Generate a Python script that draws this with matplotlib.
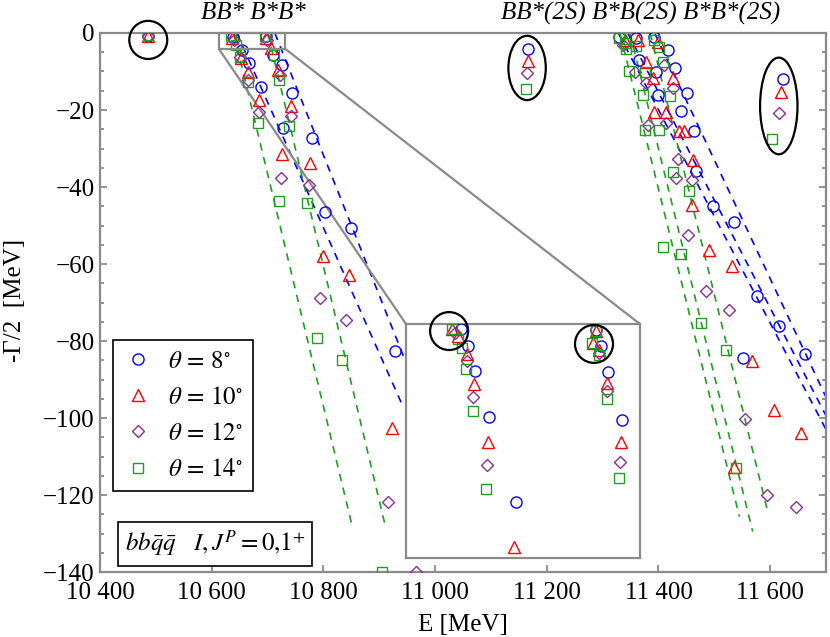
import numpy as np
import matplotlib
matplotlib.use('Agg')
import matplotlib.pyplot as plt
from matplotlib.patches import Ellipse, Rectangle, ConnectionPatch
from matplotlib.ticker import MultipleLocator

plt.rcParams['font.family'] = ['Liberation Serif', 'DejaVu Serif']
plt.rcParams['mathtext.fontset'] = 'stix'

# complex-scaling eigenvalues, E [MeV] and -Gamma/2 [MeV], one set per rotation angle
thetas = [8, 10, 12, 14]

e8 = [10486, 10638, 10653.5, 10666.6, 10688, 10727.9, 10802.5, 10929,
      10697, 10708.9, 10725, 10742.9, 10778.7, 10850.3,
      11330.2, 11360.1, 11392.8, 11366, 11416.6, 11395.9, 11430.4, 11398.7, 11451.3,
      11440.6, 11464.4, 11468, 11497.1, 11536, 11550.8, 11575.8, 11615.2, 11662.4,
      11166.2, 11622.3]
g8 = [-0.7, -1.0, -4.4, -7.8, -13.9, -24.8, -46.4, -82.5,
      -0.8, -5.7, -8.3, -15.7, -27.4, -50.7,
      -1.0, -1.4, -1.0, -7.0, -4.4, -10.1, -9.2, -16.1, -15.7,
      -20.3, -25.5, -35.8, -44.9, -49.0, -84.5, -68.3, -76.1, -83.5,
      -4.2, -12.0]

e10 = [10486, 10636.1, 10652.2, 10665.3, 10685, 10726.1, 10798.4, 10922.9,
       10697, 10705.9, 10719, 10741.7, 10775.7, 10845.4,
       11339.2, 11363, 11398.7, 11378, 11389.8, 11425.6, 11391.1, 11413.8, 11437.6,
       11446.5, 11462.6, 11460.8, 11491.2, 11531.8, 11567.6, 11607.5, 11655.3, 11534.7,
       11166.2, 11619.5]
g10 = [-0.8, -1.3, -6.6, -10.1, -17.4, -31.3, -57.9, -102.7,
       -1.3, -3.9, -9.6, -19.0, -33.7, -62.9,
       -1.8, -1.8, -2.3, -7.5, -11.8, -11.8, -20.4, -20.4, -25.5,
       -25.5, -33.0, -44.7, -56.4, -60.5, -85.2, -97.9, -103.8, -112.8,
       -7.2, -15.3]

e12 = [10486, 10639.7, 10651.3, 10664.2, 10685, 10723.8, 10794.1, 10915.7,
       10698.7, 10722, 10741.7, 10773.9, 10841.3, 10965.3,
       11336.1, 11357.1, 11378, 11410.7, 11425.6, 11380.9, 11413.8, 11434.5,
       11431.7, 11460.3, 11452.4, 11485.9, 11526.5, 11555.6, 11593.7, 11646.3,
       11164.4, 11616.5]
g12 = [-0.9, -1.8, -6.2, -12.2, -20.4, -37.7, -68.9, -121.7,
       -1.8, -10.9, -21.6, -39.5, -74.6, -140.0,
       -3.1, -10.1, -13.1, -8.3, -14.4, -23.9, -23.5, -32.8,
       -37.7, -38.2, -52.5, -67.0, -72.0, -100.2, -120.1, -123.2,
       -10.3, -20.9]

e14 = [10486, 10634.3, 10643.3, 10650.4, 10664.2, 10683.2, 10720.2, 10789.4, 10905.7,
       10695.2, 10711.8, 10720.2, 10738.1, 10769.8, 10833.5,
       11330.2, 11339.2, 11342.2, 11360.1, 11392.8, 11401.7, 11407.7, 11348.1, 11375,
       11371.9, 11420.9, 11376.7, 11400.5, 11426.8, 11455.5, 11407.7, 11440.6, 11476.9,
       11521.1, 11539.5,
       11162.1, 11603.4]
g14 = [-0.6, -0.8, -3.1, -6.2, -12.7, -23.5, -43.6, -79.1, -139.9,
       -0.8, -5.7, -12.2, -24.2, -44.2, -84.9,
       -1.2, -2.7, -4.2, -3.3, -1.8, -3.6, -7.6, -9.9, -10.1,
       -16.1, -16.3, -25.2, -25.2, -36.0, -41.0, -55.5, -57.4, -75.4,
       -82.3, -113.1,
       -14.6, -27.6]

# the same eigenvalues near the BB* / B*B* thresholds, as seen in the magnified inset
ie8 = [10638.1, 10641.6, 10645.4, 10652.7, 10666.4, 10707.3, 10710.0, 10713.7, 10720.6]
ig8 = [-0.20, -0.95, -2.00, -3.97, -7.59, -0.24, -0.95, -2.06, -4.09]
ie10 = [10633.4, 10636.8, 10641.1, 10645.0, 10652.2, 10665.5,
        10707.3, 10706.1, 10709.1, 10713.2, 10720.1]
ig10 = [-0.20, -0.53, -1.28, -2.56, -5.03, -9.52, -0.30, -0.81, -1.10, -2.52, -5.03]
ie12 = [10635.1, 10641.1, 10644.5, 10651.7, 10709.1, 10713.2, 10719.7]
ig12 = [-0.38, -1.57, -3.13, -6.03, -1.24, -2.85, -5.89]
ie14 = [10633.4, 10636.8, 10638.6, 10640.8, 10644.2, 10651.0,
        10707.3, 10705.5, 10709.1, 10712.9, 10719.1]
ig14 = [-0.20, -0.63, -1.03, -1.92, -3.73, -7.06, -0.31, -0.81, -1.31, -3.19, -6.57]

# rotated continuum lines (threshold -> end point) for theta = 8 and 14
cont_theta = [8, 8, 8, 8, 8, 14, 14, 14, 14, 14]
cont_e0 = [10645, 10713, 11328, 11345, 11393, 10639.5, 10700.5, 11331, 11349, 11385]
cont_e1 = [10940, 10946, 11700, 11700, 11700, 10850.4, 10909.8, 11544.9, 11568.7, 11595.5]
cont_g1 = [-96.2, -84.9, -103.0, -99.4, -94.6, -127.4, -127.4, -125.6, -129.5, -124.3]

xticks = [10400, 10600, 10800, 11000, 11200, 11400, 11600]
yticks = [0, -20, -40, -60, -80, -100, -120, -140]

series = {8: (e8, g8), 10: (e10, g10), 12: (e12, g12), 14: (e14, g14)}
inset_series = {8: (ie8, ig8), 10: (ie10, ig10), 12: (ie12, ig12), 14: (ie14, ig14)}
style = {8: ('o', '#0000ff', 8.0),
         10: ('^', '#ff0000', 8.5),
         12: ('D', '#8b2f97', 5.8),
         14: ('s', '#1f9f1f', 7.5)}
gray = '#8a8a8a'

fig = plt.figure(figsize=(8.3, 6.37), dpi=100)
ax = fig.add_axes([0.1205, 0.1020, 0.8747, 0.8462])
ax.set_xlim(10400, 11700)
ax.set_ylim(-140, 0)

for t0, e0, e1, g1 in zip(cont_theta, cont_e0, cont_e1, cont_g1):
    ax.plot([e0, e1], [0, g1], ls=(0, (4.5, 4)), color=style[t0][1], lw=1.2, zorder=1)

for t in thetas:
    m, c, ms = style[t]
    e, g = series[t]
    ax.plot(e, g, ls='none', marker=m, mfc='none', mec=c, ms=ms, mew=1.0,
            zorder=3, label=rf'$\theta\,=\,{t}^{{\circ}}$')

# circles around the bound state and the narrow resonances
ax.add_patch(Ellipse((10486.4, -1.8), 68, 9.9, fill=False, ec='black', lw=1.6,
                     clip_on=False, zorder=5))
ax.add_patch(Ellipse((np.mean([e8[-2], e10[-2], e12[-2], e14[-2]]),
                      np.mean([g8[-2], g10[-2], g12[-2], g14[-2]])),
                     67, 16.7, fill=False, ec='black', lw=1.6, zorder=5))
ax.add_patch(Ellipse((np.mean([e8[-1], e10[-1], e12[-1], e14[-1]]),
                      np.mean([g8[-1], g10[-1], g12[-1], g14[-1]])),
                     67, 25.1, fill=False, ec='black', lw=1.6, zorder=5))

# axes styling
for s in ax.spines.values():
    s.set_color(gray)
    s.set_linewidth(1.6)
ax.set_xticks(xticks)
ax.set_xticklabels([f'{v // 1000} {v % 1000:03d}' for v in xticks])
ax.set_yticks(yticks)
ax.set_yticklabels([str(v).replace('-', '\u2212') for v in yticks])
ax.yaxis.set_minor_locator(MultipleLocator(5))
ax.tick_params(axis='both', which='both', direction='in', color=gray, width=1.3,
               labelsize=18, labelcolor='black')
ax.tick_params(axis='y', which='both', left=True, right=True, pad=4)
ax.tick_params(axis='x', which='both', top=False, bottom=True, pad=7)
ax.tick_params(which='major', length=5)
ax.tick_params(which='minor', length=3)

fig.text(0.018, 0.529, '-\u0393/2  [MeV]', rotation=90, ha='center', va='center', fontsize=18)
fig.text(463 / 830, 0.019, 'E [MeV]', ha='center', va='center', fontsize=18)

ax.text(0.2107, 1.037, 'BB* B*B*', transform=ax.transAxes, ha='center', va='center',
        style='italic', fontsize=18)
ax.text(0.745, 1.037, 'BB*(2S) B*B(2S) B*B*(2S)', transform=ax.transAxes,
        ha='center', va='center', style='italic', fontsize=18)

leg = ax.legend(loc='upper left', bbox_to_anchor=(0.0175, 0.4304), frameon=True,
                fancybox=False, edgecolor='black', framealpha=1, fontsize=18,
                borderpad=0.4, labelspacing=0.55, handletextpad=0.6, handlelength=1.2,
                borderaxespad=0)
leg.get_frame().set_linewidth(1.2)

ax.text(0.034, 0.052, r'$bb\bar{q}\bar{q}\ \ \ I,J^{P}=0{,}1^{+}$', transform=ax.transAxes,
        ha='left', va='center', fontsize=18, zorder=6,
        bbox=dict(boxstyle='square,pad=0.25', fc='white', ec='black', lw=1.2))

# magnified region near the thresholds
ax.add_patch(Rectangle((10613, -4.16), 119, 4.16, fill=False, ec=gray, lw=1.6,
                       clip_on=False, zorder=4))

axin = fig.add_axes([0.4892, 0.1240, 0.2819, 0.3673])
axin.set_zorder(2)
axin.set_xlim(10610, 10730)
axin.set_ylim(-10, 0)
axin.set_xticks([])
axin.set_yticks([])
for s in axin.spines.values():
    s.set_color(gray)
    s.set_linewidth(1.6)
for t in thetas:
    m, c, ms = style[t]
    e, g = inset_series[t]
    axin.plot(e, g, ls='none', marker=m, mfc='none', mec=c, ms=ms, mew=1.0, zorder=3)
for cx, cy in [(10632.1, -0.30), (10706.4, -0.85)]:
    axin.add_patch(Ellipse((cx, cy), 19.5, 1.62, fill=False, ec='black', lw=1.6,
                           clip_on=False, zorder=5))

for xa, xb in [(10613, 0), (10732, 1)]:
    con = ConnectionPatch(xyA=(xa, -4.16), coordsA=ax.transData,
                          xyB=(xb, 1), coordsB=axin.transAxes, color=gray, lw=1.6)
    con.set_zorder(2)
    ax.add_artist(con)

fig.savefig('out.png', dpi=100)
